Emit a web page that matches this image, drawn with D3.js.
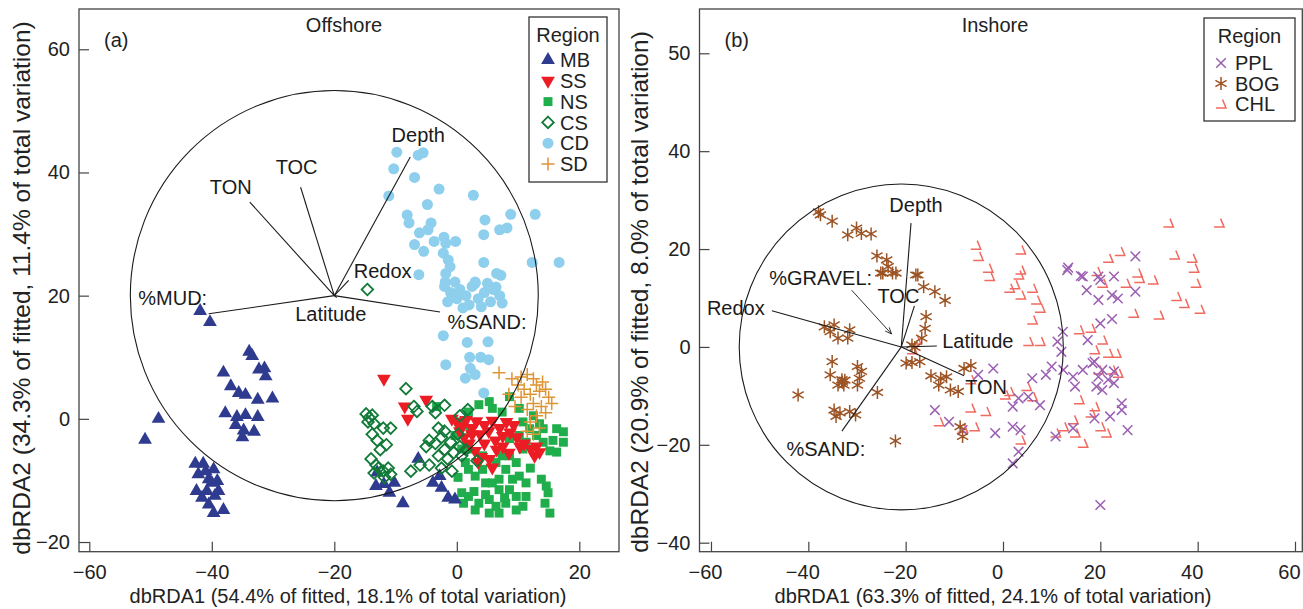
<!DOCTYPE html>
<html>
<head>
<meta charset="utf-8">
<script src="https://cdn.jsdelivr.net/npm/d3@7"></script>
<style>
  body { margin: 0; background: #fff; }
  svg { font-family: "Liberation Sans", Arial, sans-serif; }
</style>
</head>
<body>
<svg id="chart" width="1303" height="609"></svg>
<script>
// ---- data: offshore panel (a) ----
const offshoreRegions = ["MB", "SS", "NS", "CS", "CD", "SD"];

const mbPoints = [
    [-41.9, 17.5], [-40.3, 15.7],
    [-33.9, 10.9], [-33.4, 10.2], [-32.3, 8.0], [-31.4, 8.2], [-31.2, 6.9], [-38.1, 7.5],
    [-36.9, 5.3], [-35.6, 4.2], [-34.5, 3.9], [-32.5, 3.1], [-30.1, 3.3], [-37.8, 0.9],
    [-35.9, 0.3], [-34.5, 0.6], [-32.5, 0.3], [-36.1, -1.0], [-34.8, -1.9], [-33.1, -2.1],
    [-35.0, -3.0], [-48.7, 0.0], [-50.9, -3.4],
    [-42.7, -7.3], [-41.4, -7.3], [-39.7, -8.2], [-42.2, -9.0], [-40.5, -9.8], [-39.1, -10.1],
    [-42.5, -11.7], [-40.8, -11.7], [-38.9, -11.7], [-41.6, -12.8], [-40.5, -13.9], [-39.7, -15.3],
    [-38.1, -14.8], [-40.0, -10.4], [-41.0, -8.5], [-39.5, -12.5],
    [-13.0, -8.7], [-13.2, -10.9], [-11.9, -10.6], [-10.2, -10.4], [-11.0, -12.0], [-8.8, -13.7],
    [-6.3, -6.5], [-3.9, -10.4], [-2.5, -11.2], [-1.4, -12.8], [-0.3, -13.1], [-2.8, -9.3]
];

const ssPoints = [
    [-11.9, 6.5], [-8.5, 2.0], [-8.0, 0.0], [-5.0, 3.1],
    [-0.8, 0.0], [0.0, -0.5], [0.9, -1.2], [1.5, -0.2], [2.5, -1.5], [3.2, -0.4], [3.8, -2.5],
    [4.5, -1.0], [5.2, -2.0], [5.8, -0.3], [6.3, -3.5], [7.0, -1.5], [7.5, -2.8], [8.1, -0.5],
    [8.7, -2.2], [9.3, -1.0], [9.8, -3.0], [10.3, -4.5], [1.2, -3.0], [2.0, -4.0], [3.0, -5.2],
    [4.0, -6.2], [5.3, -6.5], [5.8, -7.9], [6.5, -5.0], [7.5, -4.5], [8.5, -5.5], [2.5, -2.5],
    [12.1, -4.9], [12.7, -6.0], [13.5, -5.4], [13.0, -4.5], [3.5, -7.0], [4.5, -4.0], [0.5, -2.0],
    [11.0, -4.0]
];

const nsPoints = [
    [-3.3, 2.0], [3.6, 2.3], [5.3, 2.8], [8.6, 3.6], [10.8, -0.5], [11.9, -1.6], [14.1, -1.6],
    [16.3, -1.6], [17.4, -2.1], [15.7, -3.5], [17.4, -3.8], [15.2, -5.2], [16.3, -5.4], [13.8, -9.8],
    [14.6, -10.9], [14.9, -12.0], [14.4, -13.7], [15.2, -15.3], [0.8, -4.9], [1.4, -7.1], [1.9, -8.2],
    [3.0, -9.3], [4.2, -8.2], [4.7, -10.4], [5.8, -10.4], [6.9, -9.8], [8.0, -8.2], [8.6, -6.0],
    [9.7, -7.1], [10.2, -9.3], [8.6, -11.5], [6.9, -11.5], [9.7, -12.6], [8.0, -13.7], [9.7, -14.8],
    [5.3, -13.1], [5.3, -15.3], [3.6, -13.7], [1.9, -12.6], [0.8, -12.0], [1.1, -13.7], [3.0, -14.8],
    [11.3, -10.4], [8.6, -3.2], [10.2, -2.7], [11.3, -3.8], [13.0, -2.7], [14.1, -3.8], [5.8, 1.7],
    [7.4, 1.1], [10.2, 1.7], [1.9, 1.1], [0.3, -0.5], [-0.3, -2.7], [2.2, -1.6], [1.9, -4.9],
    [4.2, -6.0], [6.4, -7.1], [7.4, -6.0], [10.8, -4.9], [9.1, -9.8], [11.3, -12.6], [10.8, -14.2],
    [6.4, -14.2], [6.9, -15.3], [4.7, -12.3], [12.5, 0.5], [13.5, -0.8], [2.8, -11.8], [7.8, -12.8],
    [12.0, -8.0], [0.2, -9.5]
];

const csPoints = [
    [-14.6, 21.0],
    [-14.8, 0.8], [-14.3, 0.2], [-13.8, 0.6], [-14.5, -0.5], [-13.5, -0.8], [-12.0, -1.5],
    [-10.8, -1.5], [-13.8, -2.5], [-13.0, -3.5], [-11.5, -4.2], [-12.5, -5.0], [-14.0, -6.5],
    [-13.2, -7.5], [-12.8, -8.0], [-12.0, -8.5], [-11.2, -8.0], [-10.8, -9.0], [-11.8, -9.5],
    [-13.5, -8.8],
    [-8.3, 4.9], [-7.0, 2.0], [-6.5, 1.2], [-4.0, 2.0], [-3.5, 1.0], [-2.0, 2.2], [-3.0, -1.5],
    [-4.5, -3.5], [-5.0, -4.5], [-3.5, -4.0], [-2.5, -3.0], [-2.0, -5.0], [-1.0, -3.8], [-0.5, -5.5],
    [0.2, -2.5], [0.5, -4.5], [-1.5, -6.5], [-3.0, -6.0], [-6.0, -7.5], [-7.5, -8.5], [-4.5, -7.5],
    [-2.5, -8.0], [-0.8, -8.5], [0.8, -6.0], [1.5, -5.0], [3.3, -6.8], [-2.0, -2.0], [1.8, 1.5],
    [0.5, 0.5]
];

const cdPoints = [
    [-9.8, 43.3], [-6.3, 42.8], [-5.5, 43.2], [-10.3, 40.6], [-6.9, 39.2], [-2.9, 37.3], [2.7, 36.3],
    [-11.1, 36.2], [-4.8, 34.8], [-8.1, 33.1], [-7.8, 31.8], [-4.2, 31.8], [-6.1, 30.2], [-4.7, 30.7],
    [-3.7, 28.8], [-6.9, 28.3], [-5.4, 27.2], [-2.1, 29.5], [-1.8, 28.5], [-0.2, 28.8], [4.6, 32.3],
    [7.0, 30.7], [8.2, 31.0], [8.8, 33.2], [12.8, 33.2], [4.4, 29.9], [-2.2, 26.9], [-1.4, 25.8],
    [-1.1, 24.7], [-1.8, 23.6], [4.4, 25.4], [6.5, 23.6], [7.2, 23.3], [12.3, 25.4], [16.7, 25.4],
    [-6.2, 23.4], [-1.9, 22.2], [-0.3, 22.2], [3.0, 22.2], [6.4, 21.4],
    [-2.0, 21.5], [-1.0, 20.5], [0.0, 19.5], [0.5, 21.0], [1.5, 20.0], [2.0, 18.5], [2.5, 21.5],
    [3.5, 19.5], [4.0, 18.2], [4.5, 20.5], [5.5, 19.0], [6.0, 21.0], [7.0, 20.0], [7.4, 18.8],
    [-1.5, 19.0], [1.0, 18.0], [3.0, 22.0], [5.0, 22.0],
    [-2.2, 13.5], [1.7, 12.4], [5.1, 12.5], [-1.8, 8.8], [2.1, 10.0], [3.9, 10.0], [5.2, 9.6],
    [2.2, 8.2], [3.0, 7.2], [1.4, 6.6], [4.4, 4.2]
];

const sdPoints = [
    [6.9, 7.5], [9.0, 6.5], [10.5, 6.8], [11.5, 7.2], [12.5, 6.5], [13.0, 5.5], [10.0, 5.5],
    [11.0, 4.8], [12.0, 4.0], [13.5, 4.5], [14.5, 4.8], [15.0, 3.5], [10.5, 3.5], [12.5, 2.5],
    [13.8, 2.0], [14.5, 1.0], [11.5, 1.5], [13.0, 0.5], [12.0, -0.5], [13.5, -1.5], [12.5, -2.5],
    [11.5, -2.0], [9.5, 2.0], [8.5, 4.0], [14.0, 6.0], [15.5, 2.5]
];

// biplot vectors (a): origin and end points
const offshoreOrigin = [-20, 20];
const offshoreVarNames = ["Depth", "TOC", "TON", "Redox", "%MUD:", "%SAND:", "Latitude"];
const offshoreVarEnds = [
    [-7.6, 42.5], [-25.5, 37.6], [-33.8, 35.2], [-17.65, 22.5], [-40.5, 17.05], [-2.74, 17.35], [-19.6, 19.7]
];
const offshoreCircleRadius = 33.3;

// ---- data: inshore panel (b) ----
const inshoreRegions = ["PPL", "BOG", "CHL"];

const pplPoints = [
    [13.4, 16.2], [16.0, 14.5], [19.6, 14.4], [22.8, 14.4], [27.2, 18.5], [13.2, 15.7], [16.4, 14.4],
    [20.0, 13.7], [17.2, 11.6], [19.6, 9.6], [22.4, 10.6], [23.6, 9.9], [27.2, 11.3], [22.4, 5.7],
    [20.0, 4.8], [17.4, 1.4], [12.0, -1.0], [12.3, 3.1], [11.2, 1.1], [18.8, -3.0], [16.4, -4.7],
    [14.4, -6.1], [19.6, -6.1], [21.6, -6.7], [19.2, -8.1], [20.4, -8.8], [22.8, -7.4], [14.8, -8.1],
    [12.4, -4.7], [10.0, -4.0], [8.8, -5.7], [6.0, -6.4], [5.2, -10.2], [7.6, -11.9], [2.0, -12.2],
    [3.2, -10.5], [-2.0, -4.4], [-5.1, -5.7], [-14.0, -12.9], [-11.1, -15.3], [-8.3, -17.0],
    [-1.6, -17.6], [2.0, -16.3], [3.6, -17.0], [3.2, -21.4], [2.0, -23.8], [10.8, -18.3], [14.4, -16.6],
    [18.8, -14.6], [22.0, -14.2], [24.4, -12.9], [24.4, -11.5], [25.6, -17.0], [20.0, -32.3],
    [18.4, -3.3], [20.4, -4.7], [22.8, -5.0]
];

const bogPoints = [
    [-37.9, 27.6], [-37.5, 27.0], [-35.1, 25.7], [-31.9, 22.9], [-30.1, 24.3], [-29.1, 23.2],
    [-27.1, 23.1], [-25.9, 18.6], [-23.9, 17.8], [-23.6, 16.4], [-24.7, 15.1], [-22.0, 15.1],
    [-17.5, 14.7], [-25.1, 15.1], [-22.7, 15.1], [-17.9, 14.7], [-16.3, 12.3], [-14.0, 11.3],
    [-11.9, 9.5], [-15.8, 6.2], [-16.0, 3.8], [-16.7, 1.8], [-18.7, 0.4], [-36.7, 4.1], [-34.7, 4.5],
    [-35.5, 3.1], [-33.9, 1.8], [-31.5, 3.5], [-31.9, 1.8], [-35.1, -3.0], [-35.5, -5.7], [-33.1, -6.7],
    [-32.7, -7.8], [-33.9, -7.8], [-29.9, -4.0], [-29.1, -5.0], [-29.5, -6.4], [-29.9, -7.8],
    [-42.1, -9.8], [-25.8, -9.3], [-34.7, -12.9], [-33.5, -13.5], [-31.5, -13.2], [-30.3, -13.9],
    [-34.3, -14.2], [-22.1, -19.2], [-19.9, -3.3], [-18.7, -3.2], [-17.1, -3.0], [-14.8, -5.9],
    [-12.8, -6.4], [-11.6, -6.1], [-13.2, -7.8], [-10.8, -8.8], [-9.2, -9.1], [-8.0, -4.4],
    [-6.6, -3.8], [-8.3, -18.3], [-8.8, -16.3], [-18.1, -0.1], [-32.5, -6.8], [-33.0, -7.2]
];

const chlPoints = [
    [34.0, 25.3], [44.4, 25.3], [-5.6, 20.8], [-5.1, 18.5], [3.6, 19.8], [24.0, 19.5], [21.6, 18.1],
    [35.2, 18.8], [38.8, 18.1], [39.2, 16.1], [-3.1, 16.1], [3.6, 15.7], [19.2, 15.4], [27.6, 15.1],
    [-2.8, 14.4], [3.2, 14.7], [2.4, 12.7], [1.3, 12.0], [6.0, 12.0], [3.6, 10.6], [6.8, 9.6],
    [7.6, 7.9], [6.0, 5.5], [5.2, 1.1], [7.6, 1.1], [20.4, 13.0], [25.2, 13.0], [28.0, 14.0],
    [30.8, 13.7], [35.6, 10.3], [39.6, 13.0], [37.2, 8.9], [40.4, 7.7], [32.0, 6.5], [26.8, 6.9],
    [18.0, 3.8], [20.4, 1.4], [21.6, -1.3], [22.4, -4.7], [23.6, -5.4], [15.6, -10.8], [18.8, -12.2],
    [18.0, -13.5], [20.0, -16.3], [21.2, -17.6], [14.4, -14.9], [12.4, -16.3], [14.8, -17.6],
    [16.4, -19.7], [10.8, -17.6], [6.0, -10.2], [0.4, -9.8], [-3.6, -13.2], [-6.7, -12.5],
    [-5.9, -16.3], [-8.3, -16.6], [-13.2, -15.3], [3.6, -19.0], [1.3, -9.1], [4.8, -8.1], [-6.7, -6.7],
    [-17.9, 1.4], [-18.7, -0.6], [15.6, 3.5], [18.8, -0.6], [23.2, -1.3], [19.6, -4.7]
];

// biplot vectors (b)
const inshoreOrigin = [-20.9, 0];
const inshoreVarNames = ["Depth", "TOC", "Redox", "Latitude", "TON", "%SAND:"];
const inshoreVarEnds = [
    [-18.9, 25.3], [-18.2, 8.4], [-47.5, 7.4], [-13.6, 0.2], [-8.0, -5.9], [-33.1, -17.2]
];
const gravelArrow = [[-31.1, 11.6], [-22.9, 2.65]];
const inshoreCircleRadius = 33.3;

// ---- tick labels ----
const offXTicks = [-60, -40, -20, 0, 20];
const offYTicks = [-20, 0, 20, 40, 60];
const inXTicks = [-60, -40, -20, 0, 20, 40, 60];
const inYTicks = [-40, -20, 0, 20, 40, 60];
const inYTickLabels = ["−40", "−20", "0", "20", "40", "50"];

// ---- styling ----
const regionStyle = {
    MB:  { shape: "triUp",    color: "#2e3b8f", pts: mbPoints },
    SS:  { shape: "triDown",  color: "#ec1c24", pts: ssPoints },
    NS:  { shape: "square",   color: "#1fae4b", pts: nsPoints },
    CS:  { shape: "diamond",  color: "#127a38", pts: csPoints },
    CD:  { shape: "circle",   color: "#8dcfec", pts: cdPoints },
    SD:  { shape: "plus",     color: "#de9533", pts: sdPoints },
    PPL: { shape: "cross",    color: "#9b5fb2", pts: pplPoints },
    BOG: { shape: "asterisk", color: "#9c5323", pts: bogPoints },
    CHL: { shape: "chl",      color: "#f06b5f", pts: chlPoints }
};

const fontSize = 20;
const yTitleSize = 24.5;
const svg = d3.select("#chart");

function markerPath(shape) {
    switch (shape) {
        case "triUp":    return d3.symbol(d3.symbolTriangle, 82)();
        case "triDown":  return d3.symbol(d3.symbolTriangle, 82)();
        case "square":   return d3.symbol(d3.symbolSquare, 80)();
        case "circle":   return d3.symbol(d3.symbolCircle, 95)();
        case "diamond":  return "M0,-5.8L5.8,0L0,5.8L-5.8,0Z";
        case "plus":     return "M-6.5,0H6.5M0,-6.5V6.5";
        case "cross":    return "M-4.8,-4.8L4.8,4.8M-4.8,4.8L4.8,-4.8";
        case "asterisk": return "M0,-6.5V6.5M-5.6,-3.2L5.6,3.2M-5.6,3.2L5.6,-3.2";
        case "chl":      return "M-5,4H5L1.5,-4.5";
    }
}

function drawMarker(g, shape, color) {
    const p = g.append("path").attr("d", markerPath(shape));
    if (shape === "triDown") p.attr("transform", "rotate(180)");
    if (["triUp", "triDown", "square", "circle"].includes(shape)) {
        p.attr("fill", color);
    } else {
        p.attr("fill", "none").attr("stroke", color)
            .attr("stroke-width", shape === "diamond" ? 1.8 : 1.5);
    }
}

function drawPanel(cfg) {
    const x = d3.scaleLinear().domain(cfg.xDomain).range([cfg.left, cfg.right]);
    const y = d3.scaleLinear().domain(cfg.yDomain).range([cfg.bottom, cfg.top]);
    const g = svg.append("g");

    // points
    cfg.drawOrder.forEach(r => {
        const st = regionStyle[r];
        st.pts.forEach(d => {
            const m = g.append("g").attr("transform", `translate(${x(d[0])},${y(d[1])})`);
            drawMarker(m, st.shape, st.color);
        });
    });

    // correlation circle
    g.append("ellipse")
        .attr("cx", x(cfg.origin[0])).attr("cy", y(cfg.origin[1]))
        .attr("rx", x(cfg.origin[0] + cfg.radius) - x(cfg.origin[0]))
        .attr("ry", y(cfg.origin[1]) - y(cfg.origin[1] + cfg.radius))
        .attr("fill", "none").attr("stroke", "#1a1a1a").attr("stroke-width", 1.1);

    // vectors
    cfg.varNames.forEach((name, i) => {
        const e = cfg.varEnds[i];
        g.append("line")
            .attr("x1", x(cfg.origin[0])).attr("y1", y(cfg.origin[1]))
            .attr("x2", x(e[0])).attr("y2", y(e[1]))
            .attr("stroke", "#1a1a1a").attr("stroke-width", 1.1);
        const off = cfg.labelOffsets[name];
        g.append("text")
            .attr("x", x(e[0]) + off[0]).attr("y", y(e[1]) + off[1])
            .attr("dy", "0.36em").attr("text-anchor", "middle")
            .attr("font-size", fontSize).attr("fill", "#1a1a1a")
            .text(name);
    });

    if (cfg.extra) cfg.extra(g, x, y);

    // axes with inward ticks
    const xAxis = d3.axisBottom(x).tickValues(cfg.xTicks).tickSizeInner(-10).tickSizeOuter(0)
        .tickPadding(13).tickFormat(d => d < 0 ? "−" + Math.abs(d) : d);
    const gx = g.append("g").attr("transform", `translate(0,${cfg.bottom})`).call(xAxis);
    gx.select(".domain").remove();
    gx.selectAll("text").attr("font-size", fontSize).attr("fill", "#222").attr("dx", cfg.xLabelShift || 0);
    gx.selectAll("line").attr("stroke", "#444").attr("stroke-width", 1.2);

    const yAxis = d3.axisLeft(y).tickValues(cfg.yTicks).tickSizeInner(-10).tickSizeOuter(0)
        .tickPadding(9).tickFormat((d, i) => cfg.yTickLabels ? cfg.yTickLabels[i] : (d < 0 ? "−" + Math.abs(d) : d));
    const gy = g.append("g").attr("transform", `translate(${cfg.left},0)`).call(yAxis);
    gy.select(".domain").remove();
    gy.selectAll("text").attr("font-size", fontSize).attr("fill", "#222");
    gy.selectAll("line").attr("stroke", "#444").attr("stroke-width", 1.2);

    // frame
    g.append("rect")
        .attr("x", cfg.left).attr("y", cfg.top)
        .attr("width", cfg.right - cfg.left).attr("height", cfg.bottom - cfg.top)
        .attr("fill", "none").attr("stroke", "#444").attr("stroke-width", 1.3);

    // titles
    g.append("text").attr("x", cfg.titleX).attr("y", 32).attr("text-anchor", "middle")
        .attr("font-size", fontSize).attr("fill", "#222").text(cfg.title);
    g.append("text").attr("x", cfg.left + 25).attr("y", 47)
        .attr("font-size", fontSize).attr("fill", "#222").text(cfg.tag);
    g.append("text").attr("x", cfg.xTitleX).attr("y", 603)
        .attr("text-anchor", "middle").attr("font-size", fontSize).attr("fill", "#222").text(cfg.xTitle);
    g.append("text")
        .attr("transform", `translate(${cfg.yTitleX},${cfg.yTitleY}) rotate(-90)`)
        .attr("text-anchor", "middle").attr("font-size", yTitleSize).attr("fill", "#222").text(cfg.yTitle);

    // legend
    const lg = cfg.legend;
    g.append("rect").attr("x", lg.x).attr("y", lg.y).attr("width", lg.w).attr("height", lg.h)
        .attr("fill", "#fff").attr("stroke", "#333").attr("stroke-width", 1.3);
    g.append("text").attr("x", lg.x + lg.w / 2).attr("y", lg.y + 25).attr("text-anchor", "middle")
        .attr("font-size", fontSize).attr("fill", "#222").text("Region");
    cfg.regions.forEach((r, i) => {
        const cy = lg.y + lg.first + i * lg.step;
        const m = g.append("g").attr("transform", `translate(${lg.x + lg.sym},${cy})`);
        drawMarker(m, regionStyle[r].shape, regionStyle[r].color);
        g.append("text").attr("x", lg.x + lg.txt).attr("y", cy).attr("dy", "0.36em")
            .attr("font-size", fontSize).attr("fill", "#222").text(r);
    });
}

drawPanel({
    left: 79, right: 619, top: 9, bottom: 551.7,
    xDomain: [-61.68, 26.48], yDomain: [-21.57, 66.54],
    xTicks: offXTicks, yTicks: offYTicks,
    drawOrder: ["NS", "MB", "SS", "CS", "CD", "SD"],
    regions: offshoreRegions,
    origin: offshoreOrigin, radius: offshoreCircleRadius,
    varNames: offshoreVarNames, varEnds: offshoreVarEnds,
    labelOffsets: {
        "Depth": [8, -22], "TOC": [-4, -20], "TON": [-19, -15], "Redox": [34, -9],
        "%MUD:": [-36, -16], "%SAND:": [47, 10], "Latitude": [-6, 16]
    },
    title: "Offshore", titleX: 344, tag: "(a)",
    xTitle: "dbRDA1 (54.4% of fitted, 18.1% of total variation)", xTitleX: 348,
    yTitle: "dbRDA2 (34.3% of fitted, 11.4% of total variation)", yTitleX: 30, yTitleY: 288,
    legend: { x: 529, y: 17, w: 78, h: 165, first: 43, step: 20.8, sym: 19, txt: 31 }
});

drawPanel({
    left: 699.5, right: 1302.3, top: 9, bottom: 551.7,
    xDomain: [-62.36, 61.5], yDomain: [-41.84, 69.05],
    xTicks: inXTicks, yTicks: inYTicks, yTickLabels: inYTickLabels, xLabelShift: -6,
    drawOrder: ["CHL", "PPL", "BOG"],
    regions: inshoreRegions,
    origin: inshoreOrigin, radius: inshoreCircleRadius,
    varNames: inshoreVarNames, varEnds: inshoreVarEnds,
    labelOffsets: {
        "Depth": [5, -18], "TOC": [-16, -10], "Redox": [-36, -3], "Latitude": [41, -5],
        "TON": [22, 11], "%SAND:": [-16, 18]
    },
    extra: (g, x, y) => {
        const a = gravelArrow;
        g.append("line")
            .attr("x1", x(a[0][0])).attr("y1", y(a[0][1]))
            .attr("x2", x(a[1][0])).attr("y2", y(a[1][1]))
            .attr("stroke", "#1a1a1a").attr("stroke-width", 0.9);
        const ang = Math.atan2(y(a[1][1]) - y(a[0][1]), x(a[1][0]) - x(a[0][0]));
        const hx = x(a[1][0]), hy = y(a[1][1]);
        const l = 7, w = 0.4;
        g.append("path")
            .attr("d", `M${hx - l * Math.cos(ang - w)},${hy - l * Math.sin(ang - w)}L${hx},${hy}L${hx - l * Math.cos(ang + w)},${hy - l * Math.sin(ang + w)}`)
            .attr("fill", "none").attr("stroke", "#1a1a1a").attr("stroke-width", 0.9);
        g.append("text").attr("x", x(a[0][0]) - 31).attr("y", y(a[0][1]) - 12)
            .attr("dy", "0.36em").attr("text-anchor", "middle")
            .attr("font-size", fontSize).attr("fill", "#1a1a1a").text("%GRAVEL:");
    },
    title: "Inshore", titleX: 995, tag: "(b)",
    xTitle: "dbRDA1 (63.3% of fitted, 24.1% of total variation)", xTitleX: 993,
    yTitle: "dbRDA2 (20.9% of fitted, 8.0% of total variation)", yTitleX: 648, yTitleY: 292,
    legend: { x: 1204, y: 18, w: 91, h: 103, first: 45, step: 20.5, sym: 17, txt: 31 }
});
</script>
</body>
</html>
